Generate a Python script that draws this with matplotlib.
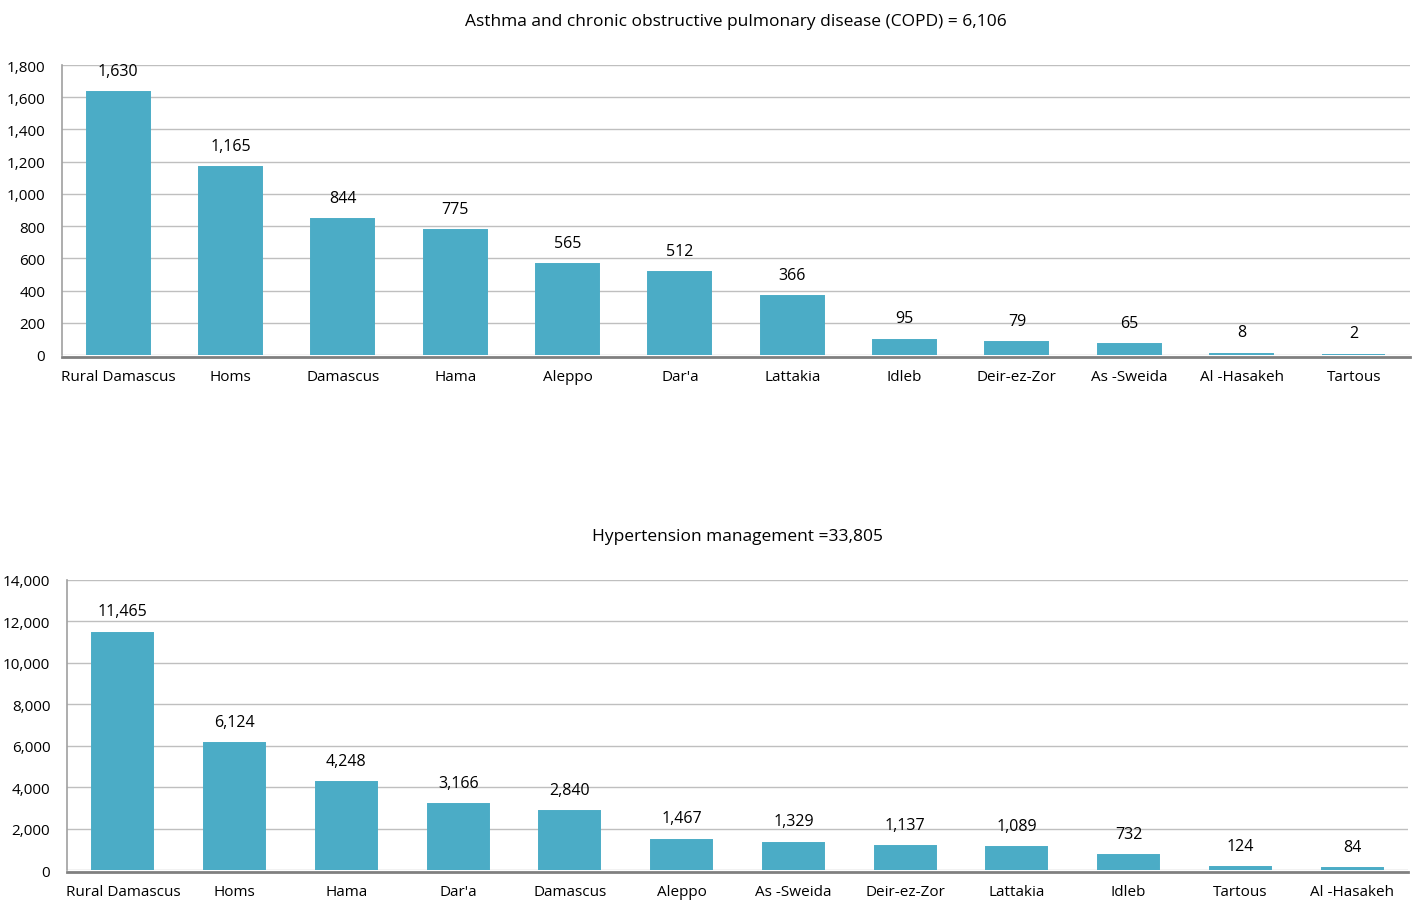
import matplotlib
matplotlib.use('Agg')
import matplotlib.pyplot as plt
import numpy as np

plt.rcParams['font.family'] = ['Open Sans', 'DejaVu Sans']

copd_regions = ['Rural Damascus', 'Homs', 'Damascus', 'Hama', 'Aleppo', "Dar'a",
                'Lattakia', 'Idleb', 'Deir-ez-Zor', 'As -Sweida', 'Al -Hasakeh', 'Tartous']
copd_values = [1630, 1165, 844, 775, 565, 512, 366, 95, 79, 65, 8, 2]
copd_ticks = [0, 200, 400, 600, 800, 1000, 1200, 1400, 1600, 1800]

htn_regions = ['Rural Damascus', 'Homs', 'Hama', "Dar'a", 'Damascus', 'Aleppo',
               'As -Sweida', 'Deir-ez-Zor', 'Lattakia', 'Idleb', 'Tartous', 'Al -Hasakeh']
htn_values = [11465, 6124, 4248, 3166, 2840, 1467, 1329, 1137, 1089, 732, 124, 84]
htn_ticks = [0, 2000, 4000, 6000, 8000, 10000, 12000, 14000]

BAR = '#4BACC6'


def draw(ax, regions, values, ticks, title, width):
    # spine position first: moving it resets the tick labels
    for s in ['top', 'right']:
        ax.spines[s].set_visible(False)
    ax.spines['bottom'].set_position(('outward', 1.2))
    ax.spines['bottom'].set_color('#808080')
    ax.spines['bottom'].set_linewidth(2)
    ax.spines['left'].set_color('#A0A0A0')
    ax.spines['left'].set_linewidth(1.2)

    x = np.arange(len(regions))
    ax.bar(x, values, width=width, color=BAR, edgecolor=BAR, linewidth=1.4, zorder=3)
    ymax = ticks[-1]
    ax.set_ylim(0, ymax)
    ax.set_xlim(-0.5, len(regions) - 0.5)
    ax.set_yticks(ticks)
    ax.set_yticklabels([f'{t:,}' for t in ticks], fontsize=11)
    ax.set_xticks(x)
    ax.set_xticklabels(regions, fontsize=11)
    ax.tick_params(axis='x', length=0, pad=9)
    ax.tick_params(axis='y', length=0, pad=12)
    ax.yaxis.grid(True, color='#BFBFBF', linewidth=1, zorder=0)
    for xi, v in zip(x, values):
        ax.annotate(f'{v:,}', (xi, v), xytext=(0, 9.5), textcoords='offset points',
                    ha='center', va='bottom', fontsize=11.5)
    ax.set_title(title, fontsize=12.5, pad=29)


fig = plt.figure(figsize=(14.16, 9.03), dpi=100)
ax1 = fig.add_axes([0.0438, 0.6058, 0.952, 0.3211])
ax2 = fig.add_axes([0.0473, 0.0354, 0.9471, 0.3212])

draw(ax1, copd_regions, copd_values, copd_ticks,
     'Asthma and chronic obstructive pulmonary disease (COPD) = 6,106', 0.56)
draw(ax2, htn_regions, htn_values, htn_ticks,
     'Hypertension management =33,805', 0.545)

fig.savefig('out.png', dpi=100)
